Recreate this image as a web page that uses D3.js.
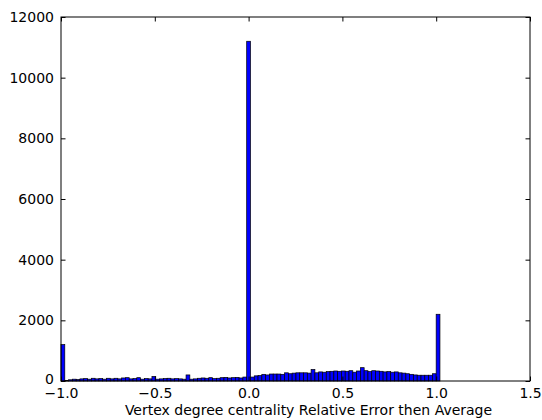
<!DOCTYPE html>
<html>
<head>
<meta charset="utf-8">
<script src="https://cdn.jsdelivr.net/npm/d3@7"></script>
<style>
  body { margin: 0; background: #fff; }
  text { font-family: "DejaVu Sans", sans-serif; }
</style>
</head>
<body>
<div id="chart"></div>
<script>
// histogram: 100 bins between binLo and binHi
var binLo = -1.0, binHi = 1.02;
var counts = [
  1200, 20, 40, 60, 50, 70, 80, 60, 90, 70,
  80, 60, 90, 70, 90, 70, 100, 110, 70, 80,
  110, 60, 80, 70, 150, 60, 70, 80, 90, 70,
  80, 70, 60, 200, 60, 70, 90, 100, 90, 110,
  80, 90, 110, 120, 100, 110, 120, 100, 130, 11200,
  130, 170, 180, 220, 200, 230, 230, 230, 220, 270,
  240, 260, 270, 270, 270, 260, 380, 270, 300, 290,
  310, 320, 330, 320, 330, 320, 340, 290, 330, 440,
  340, 310, 340, 330, 320, 300, 310, 290, 300, 270,
  260, 240, 220, 200, 190, 190, 190, 190, 240, 2200
];
var xTicks = [-1.0, -0.5, 0.0, 0.5, 1.0, 1.5];
var yTicks = [0, 2000, 4000, 6000, 8000, 10000, 12000];
var xLabel = "Vertex degree centrality Relative Error then Average";

var w = 542, h = 420;
var pLeft = 61, pRight = 530, pTop = 17, pBottom = 381;

var svg = d3.select("#chart").append("svg")
  .attr("width", w)
  .attr("height", h);

var x = d3.scaleLinear().domain([-1, 1.5]).range([pLeft, pRight]);
var y = d3.scaleLinear().domain([0, 12000]).range([pBottom, pTop]);

var binW = (binHi - binLo) / counts.length;
var bins = counts.map(function (c, i) {
  return {x0: binLo + i * binW, x1: binLo + (i + 1) * binW, n: c};
});

// bars
svg.append("g")
  .selectAll("rect")
  .data(bins)
  .enter().append("rect")
  .attr("x", function (d) { return x(d.x0); })
  .attr("width", function (d) { return x(d.x1) - x(d.x0); })
  .attr("y", function (d) { return y(d.n); })
  .attr("height", function (d) { return y(0) - y(d.n); })
  .attr("fill", "#0000ff")
  .attr("stroke", "#000")
  .attr("stroke-width", 0.7);

// axes, ticks pointing inward
var fx = d3.format(".1f"), fy = d3.format("d");

var gx = svg.append("g")
  .attr("transform", "translate(0," + pBottom + ")")
  .call(d3.axisBottom(x).tickValues(xTicks).tickFormat(fx).tickSize(-4.5).tickPadding(7));
var gxt = svg.append("g")
  .attr("transform", "translate(0," + pTop + ")")
  .call(d3.axisTop(x).tickValues(xTicks).tickFormat("").tickSize(-4.5));
var gy = svg.append("g")
  .attr("transform", "translate(" + pLeft + ",0)")
  .call(d3.axisLeft(y).tickValues(yTicks).tickFormat(fy).tickSize(-4.5).tickPadding(7));
var gyr = svg.append("g")
  .attr("transform", "translate(" + pRight + ",0)")
  .call(d3.axisRight(y).tickValues(yTicks).tickFormat("").tickSize(-4.5));

[gx, gxt, gy, gyr].forEach(function (g) {
  g.select(".domain").remove();
  g.selectAll("line").attr("stroke", "#000");
  g.selectAll("text")
    .attr("fill", "#000")
    .style("font-size", "14px")
    .style("font-family", "DejaVu Sans, sans-serif");
});
// keep the "0" label clear of the "-1.0" label
gy.selectAll(".tick text").filter(function (d) { return d === 0; }).attr("dy", "0.2em");

// frame
svg.append("rect")
  .attr("x", pLeft)
  .attr("y", pTop)
  .attr("width", pRight - pLeft)
  .attr("height", pBottom - pTop)
  .attr("fill", "none")
  .attr("stroke", "#000")
  .attr("stroke-width", 1);

svg.append("text")
  .attr("x", (pLeft + pRight) / 2 + 13)
  .attr("y", 415)
  .attr("text-anchor", "middle")
  .style("font-size", "14px")
  .text(xLabel);
</script>
</body>
</html>
